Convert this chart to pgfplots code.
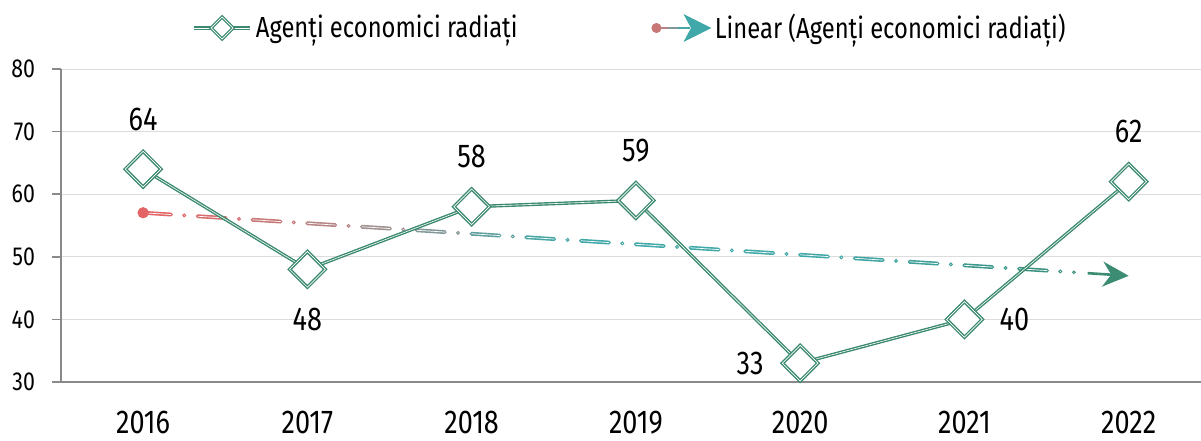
\documentclass[border=0pt]{standalone}
\usepackage{fontspec}
\setmainfont{Fira Sans}[FakeStretch=0.82]
\usepackage{pgfplots}
\pgfplotsset{compat=1.18}
\usepackage{pgfplotstable}
\usetikzlibrary{arrows.meta}
\definecolor{mgreen}{RGB}{59,138,110}
\definecolor{axgray}{RGB}{137,137,137}
\definecolor{gridgray}{RGB}{220,220,220}
\definecolor{tred}{RGB}{226,100,100}
\definecolor{tteal}{RGB}{64,168,168}
\definecolor{c0}{RGB}{226,100,100}
\definecolor{c1}{RGB}{215,108,108}
\definecolor{c2}{RGB}{200,118,118}
\definecolor{c3}{RGB}{182,132,132}
\definecolor{c4}{RGB}{160,145,145}
\definecolor{c5}{RGB}{130,152,152}
\definecolor{c6}{RGB}{95,160,160}
\definecolor{c7}{RGB}{70,166,166}
\definecolor{c8}{RGB}{64,168,168}
\definecolor{c13}{RGB}{63,164,162}
\definecolor{c14}{RGB}{62,158,152}
\definecolor{c15}{RGB}{61,152,140}
\definecolor{c16}{RGB}{60,146,128}
\definecolor{c17}{RGB}{59,140,115}

\pgfplotstableread{
x y ang
0 64 90
1 48 270
2 58 90
3 59 90
4 33 180
5 40 0
6 62 90
}\maindata

\pgfplotsset{trendseg/.style={forget plot, line width=0.8pt, double=white, double distance=0.35pt,
  dash pattern=on 14pt off 6.5pt on 0.2pt off 6.7pt, line cap=round}}

\begin{document}
\begin{tikzpicture}
\useasboundingbox (-30.5pt,-29pt) rectangle (570pt,191pt);
\begin{axis}[
  scale only axis, width=570pt, height=156.5pt,
  at={(0,0)}, anchor=south west,
  xmin=-0.5, xmax=6.44, ymin=30, ymax=80,
  clip=false,
  axis lines=left,
  axis line style={-, draw=axgray, line width=1pt},
  xtick={0,1,2,3,4,5,6},
  xticklabels={2016,2017,2018,2019,2020,2021,2022},
  ytick={30,40,50,60,70,80},
  ymajorgrids,
  grid style={draw=gridgray, line width=0.5pt},
  tick align=outside,
  major tick length=4.5pt,
  x tick style={draw=none},
  y tick style={draw=axgray, line width=0.8pt},
  xticklabel style={font=\fontsize{16.5}{16.5}\selectfont, yshift=-6.5pt},
  yticklabel style={font=\fontsize{13}{13}\selectfont, xshift=-5pt},
  /pgf/number format/assume math mode=true,
  legend columns=2,
  legend style={at={(0.5,1.131)}, anchor=center, draw=none, fill=none,
    font=\fontsize{14.5}{14.5}\selectfont,
    /tikz/every even column/.append style={column sep=65pt}},
]
\addlegendimage{legend image code/.code={
  \draw[mgreen,double=white,double distance=0.3pt,line width=0.7pt] (0pt,0pt) -- (28pt,0pt);
  \filldraw[draw=mgreen,fill=white,line width=1.6pt] (14pt,5.5pt) -- (19.5pt,0pt) -- (14pt,-5.5pt) -- (8.5pt,0pt) -- cycle;
  \draw[white,line width=0.35pt] (14pt,5.5pt) -- (19.5pt,0pt) -- (14pt,-5.5pt) -- (8.5pt,0pt) -- cycle;}}
\addlegendentry{Agenți economici radiați}
\addlegendimage{legend image code/.code={
  \draw[c3,line width=1.3pt] (1pt,0pt) -- (7pt,0pt);
  \draw[c5,line width=1.3pt] (7pt,0pt) -- (12pt,0pt);
  \draw[c7,line width=1.3pt] (12pt,0pt) -- (18pt,0pt);
  \fill[c2] (1pt,0pt) circle (2.3pt);
  \fill[tteal] (28pt,0pt) -- (15pt,6.5pt) -- (18.5pt,0pt) -- (15pt,-6.5pt) -- cycle;}}
\addlegendentry{Linear (Agenți economici radiați)}

% trend line (least-squares fit, drawn in coloured pieces)
\addplot[trendseg, c0] coordinates {(0,57.036) (0.3333,56.476)};
\addplot[trendseg, c1] coordinates {(0.3333,56.476) (0.6667,55.917)};
\addplot[trendseg, c2] coordinates {(0.6667,55.917) (1,55.357)};
\addplot[trendseg, c3] coordinates {(1,55.357) (1.3333,54.798)};
\addplot[trendseg, c4] coordinates {(1.3333,54.798) (1.6667,54.238)};
\addplot[trendseg, c5] coordinates {(1.6667,54.238) (2,53.679)};
\addplot[trendseg, c6] coordinates {(2,53.679) (2.3333,53.119)};
\addplot[trendseg, c7] coordinates {(2.3333,53.119) (2.6667,52.560)};
\addplot[trendseg, c8] coordinates {(2.6667,52.560) (3,52.000)};
\addplot[trendseg, c8] coordinates {(3,52.000) (3.3333,51.440)};
\addplot[trendseg, c8] coordinates {(3.3333,51.440) (3.6667,50.881)};
\addplot[trendseg, c8] coordinates {(3.6667,50.881) (4,50.321)};
\addplot[trendseg, c8] coordinates {(4,50.321) (4.3333,49.762)};
\addplot[trendseg, c13] coordinates {(4.3333,49.762) (4.6667,49.202)};
\addplot[trendseg, c14] coordinates {(4.6667,49.202) (5,48.643)};
\addplot[trendseg, c15] coordinates {(5,48.643) (5.3333,48.083)};
\addplot[trendseg, c16] coordinates {(5.3333,48.083) (5.6667,47.524)};
\addplot[forget plot, c17, line width=1.3pt, -{Stealth[length=13pt,width=12.5pt]}]
  coordinates {(5.75,47.384) (6,46.964)};
\addplot[forget plot, only marks, mark=*, mark size=2.6pt, color=c0] coordinates {(0,57.036)};

% main series
\addplot[forget plot, mgreen, line width=0.7pt, double=white, double distance=0.3pt, mark=none]
  table[x=x,y=y] {\maindata};
\addplot[forget plot, only marks, mark=square*, mark size=6.3pt,
  mark options={rotate=45, fill=white, draw=mgreen, line width=1.7pt},
  nodes near coords,
  visualization depends on={\thisrow{ang} \as \ang},
  every node near coord/.append style={anchor=center, shift={(\ang:25pt)}, text=black,
    font=\fontsize{16.5}{16.5}\selectfont},
  ] table[x=x,y=y] {\maindata};
\addplot[forget plot, only marks, mark=square, mark size=6.3pt,
  mark options={rotate=45, draw=white, line width=0.35pt}]
  table[x=x,y=y] {\maindata};
\end{axis}
\end{tikzpicture}
\end{document}
